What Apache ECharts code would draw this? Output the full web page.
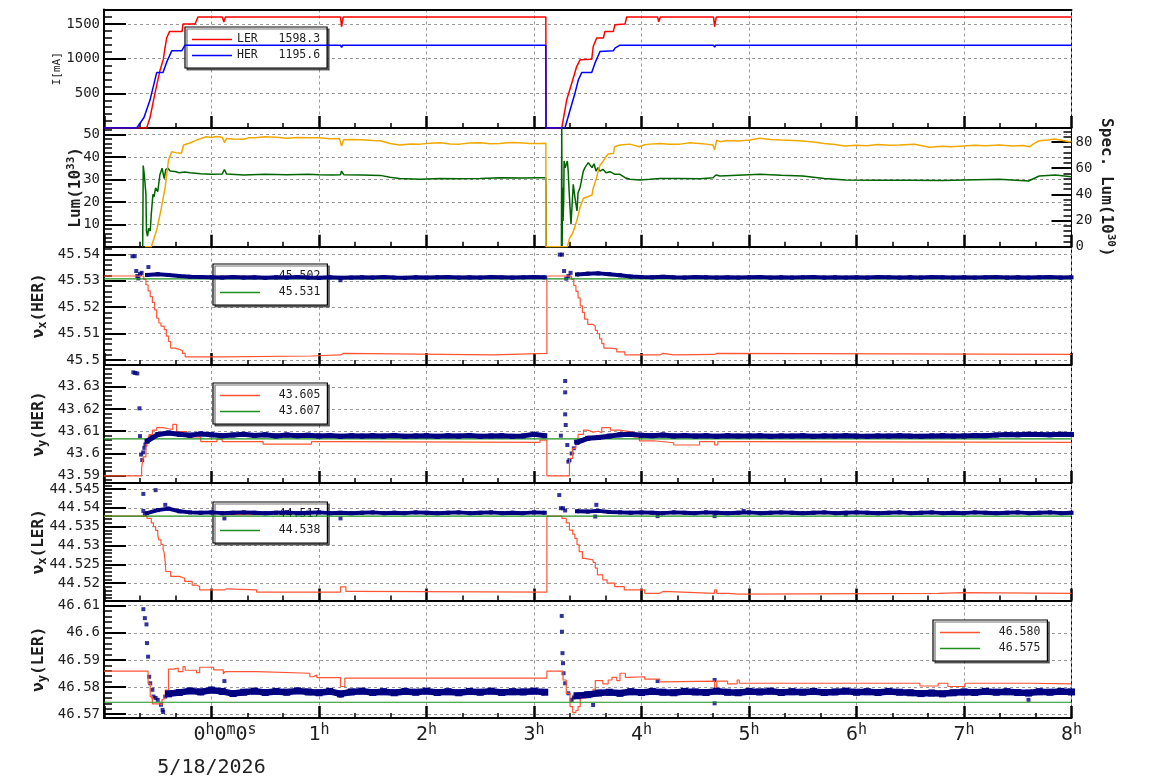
<!DOCTYPE html>
<html>
<head>
<meta charset="utf-8">
<script src="https://cdn.jsdelivr.net/npm/echarts@6.0.0/dist/echarts.min.js"></script>
<style>
html, body { margin: 0; padding: 0; background: #fff; }
#main { width: 1154px; height: 782px; }
</style>
</head>
<body>
<div id="main"></div>
<script>
const mono = 'DejaVu Sans Mono';
const ink = '#1e1e1e';
const navy = '#000080';
const tuneRed = '#ff5535';
const tuneGreen = '#1f8f1f';

// panel 1 : beam currents [mA], [hour, value]
const curLER = [[-1,0],[-0.603,0],[-0.572,150],[-0.526,500],[-0.479,830],[-0.448,993],[-0.433,1150],[-0.417,1297],[-0.405,1297],[-0.39,1393],[-0.274,1393],[-0.265,1500],[-0.153,1500],[-0.126,1600],[0.1,1601],[0.115,1530],[0.13,1600],[0.5,1602],[1.0,1600],[1.2,1602],[1.21,1460],[1.225,1600],[2.0,1601],[3.0,1600],[3.11,1600],[3.112,0],[3.258,0],[3.304,403],[3.351,645],[3.397,886],[3.428,983],[3.537,990],[3.551,1175],[3.583,1297],[3.645,1297],[3.66,1393],[3.738,1393],[3.753,1490],[3.847,1500],[3.862,1601],[4.15,1601],[4.16,1530],[4.175,1600],[4.67,1601],[4.68,1460],[4.695,1600],[5.5,1601],[6.5,1600],[7.5,1601],[8,1600]];
const curHER = [[-1,0],[-0.696,0],[-0.628,152],[-0.572,403],[-0.51,799],[-0.451,799],[-0.417,950],[-0.37,1113],[-0.277,1113],[-0.247,1195],[0.11,1195],[0.12,1175],[0.13,1195],[1.2,1195],[1.21,1160],[1.22,1195],[3.11,1195],[3.112,0],[3.288,0],[3.335,257],[3.381,500],[3.412,693],[3.444,799],[3.537,799],[3.567,935],[3.614,1103],[3.63,1113],[3.738,1113],[3.753,1152],[3.8,1195],[4.15,1195],[4.16,1172],[4.17,1195],[4.67,1195],[4.68,1165],[4.69,1195],[8,1195]];

// panel 2 : luminosity (left axis) and specific luminosity (right axis)
const lumi = [[-0.62,0],[-0.56,0],[-0.51,7.4],[-0.47,16.4],[-0.43,26.8],[-0.40,38.7],[-0.37,42.4],[-0.33,42.0],[-0.28,41.7],[-0.26,45.4],[-0.2,46.3],[-0.14,47.6],[-0.09,48.4],[-0.05,49.1],[0.0,48.8],[0.05,49.2],[0.1,48.9],[0.12,46.5],[0.14,48.3],[0.2,48.1],[0.3,48.0],[0.35,48.7],[0.4,48.6],[0.5,49.1],[0.6,48.9],[0.7,48.4],[0.8,48.8],[0.9,48.6],[1.0,48.6],[1.1,48.2],[1.19,48.3],[1.21,45.0],[1.23,47.8],[1.3,47.9],[1.4,47.8],[1.5,47.4],[1.57,47.3],[1.66,46.1],[1.75,45.4],[1.85,45.9],[1.94,45.8],[2.03,46.2],[2.13,46.4],[2.22,45.9],[2.31,45.8],[2.4,46.3],[2.5,46.4],[2.59,46.0],[2.68,46.1],[2.78,46.5],[2.87,46.4],[2.96,46.1],[3.05,46.1],[3.11,46.2],[3.112,0],[3.31,0],[3.33,3.7],[3.36,6],[3.40,11.9],[3.43,17.9],[3.46,21.6],[3.5,22.3],[3.54,23.1],[3.55,26],[3.58,30.5],[3.6,34.2],[3.615,36.5],[3.64,37.9],[3.67,40.2],[3.69,41.4],[3.74,41.7],[3.75,44.6],[3.8,45.4],[3.89,45.8],[3.98,44.6],[4.03,45.5],[4.08,45.8],[4.17,46.1],[4.26,45.7],[4.36,45.8],[4.45,46.4],[4.54,46.1],[4.6,45.8],[4.665,45.4],[4.68,43.2],[4.7,47.6],[4.73,46.9],[4.8,47.4],[4.9,47.2],[5.01,47.6],[5.1,48.4],[5.2,47.9],[5.3,47.6],[5.47,47.3],[5.6,46.8],[5.7,46.1],[5.8,45.6],[5.89,45.0],[6.0,45.3],[6.1,45.1],[6.2,45.6],[6.3,45.3],[6.4,45.4],[6.54,45.7],[6.6,45.2],[6.68,44.4],[6.8,44.9],[6.87,44.6],[7.0,45.0],[7.1,45.3],[7.2,45.1],[7.33,45.4],[7.45,45.0],[7.55,45.2],[7.61,44.6],[7.65,46.0],[7.7,47.3],[7.78,47.6],[7.84,48.1],[7.92,47.4],[7.98,46.9],[8,47.0]];
const specLumi = [[-0.64,0],[-0.635,62],[-0.625,55],[-0.61,40],[-0.605,12],[-0.595,8],[-0.585,14],[-0.57,12],[-0.56,25],[-0.545,40],[-0.535,38],[-0.52,45],[-0.50,42],[-0.48,55],[-0.46,60],[-0.44,52],[-0.425,59],[-0.405,60],[-0.385,57.8],[-0.34,57.5],[-0.3,56.5],[-0.25,57],[-0.2,56.5],[-0.1,55.8],[0.0,55.3],[0.1,55.6],[0.12,59],[0.14,55.5],[0.3,54.8],[0.5,55.3],[0.7,55.0],[0.9,55.4],[1.0,55.0],[1.13,54.8],[1.2,55.0],[1.21,57.8],[1.23,55.0],[1.4,54.8],[1.57,54.5],[1.66,53.0],[1.75,52.2],[1.94,51.5],[2.13,52.2],[2.3,52.0],[2.5,52.2],[2.68,52.7],[2.9,52.4],[3.05,52.7],[3.11,52.7],[3.112,38.7],[3.114,0],[3.255,0],[3.258,91],[3.262,0],[3.265,45],[3.27,19.6],[3.276,33.6],[3.28,65.5],[3.29,60.4],[3.3,62.9],[3.31,65.5],[3.318,57.8],[3.325,45],[3.344,17.1],[3.353,29.8],[3.365,47.7],[3.381,37.4],[3.4,27.3],[3.41,41.3],[3.428,45],[3.459,57.8],[3.474,60.4],[3.505,64.2],[3.521,62.9],[3.54,60.4],[3.558,63.4],[3.577,57.8],[3.595,60.4],[3.614,57.8],[3.642,59.1],[3.67,56.5],[3.707,57.3],[3.753,55.3],[3.8,55.3],[3.847,52.7],[3.893,51.5],[3.986,50.9],[4.079,51.5],[4.172,52.2],[4.358,52.2],[4.544,52],[4.665,52.7],[4.693,54.8],[4.73,54],[5.0,55],[5.1,55.3],[5.3,54.6],[5.5,54],[5.7,52.2],[5.9,51],[6.2,50.7],[6.5,50.7],[6.8,50.5],[7.0,51.0],[7.33,51.5],[7.6,50.2],[7.7,54],[7.85,54.8],[8.0,53.5]];

// tune set values (drawn as steps) and reference tunes
const nxHerSet = [[-1,45.5318],[-0.63,45.5305],[-0.61,45.5285],[-0.59,45.5262],[-0.57,45.524],[-0.55,45.5218],[-0.53,45.519],[-0.51,45.5158],[-0.49,45.514],[-0.47,45.5128],[-0.44,45.5115],[-0.42,45.509],[-0.4,45.507],[-0.38,45.5045],[-0.34,45.504],[-0.30,45.5035],[-0.27,45.5025],[-0.245,45.5012],[0.1,45.5015],[0.93,45.5019],[1.2,45.5025],[1.23,45.5019],[2.62,45.5025],[3.12,45.5318],[3.35,45.5305],[3.37,45.5282],[3.39,45.526],[3.41,45.5235],[3.43,45.5205],[3.45,45.518],[3.47,45.5155],[3.5,45.5135],[3.55,45.5128],[3.57,45.5112],[3.59,45.51],[3.61,45.508],[3.63,45.5062],[3.65,45.5045],[3.71,45.5042],[3.77,45.5031],[3.845,45.5019],[4.17,45.5025],[4.2,45.5019],[4.3,45.5021],[4.68,45.5025],[4.7,45.5021],[8,45.5021]];
const nyHerSet = [[-1,43.5899],[-0.65,43.5935],[-0.635,43.5985],[-0.61,43.603],[-0.595,43.606],[-0.58,43.6085],[-0.55,43.6105],[-0.51,43.6116],[-0.45,43.6111],[-0.4,43.6108],[-0.36,43.6131],[-0.325,43.6098],[-0.23,43.6075],[-0.1,43.6053],[0.05,43.6064],[0.1,43.6053],[0.48,43.6042],[0.93,43.6053],[1.2,43.605],[3.056,43.606],[3.12,43.5899],[3.33,43.5978],[3.36,43.6023],[3.39,43.6053],[3.41,43.6086],[3.46,43.6105],[3.5,43.6096],[3.55,43.61],[3.6,43.6093],[3.63,43.6116],[3.71,43.6105],[3.8,43.6096],[3.92,43.6075],[3.98,43.6057],[4.11,43.6048],[4.3,43.6038],[4.54,43.6053],[4.68,43.6038],[4.71,43.6053],[5.0,43.605],[8,43.605]];
const nxLerSet = [[-1,44.5378],[-0.6,44.5372],[-0.56,44.536],[-0.54,44.535],[-0.52,44.534],[-0.5,44.5328],[-0.49,44.5315],[-0.47,44.5303],[-0.45,44.529],[-0.44,44.528],[-0.43,44.5255],[-0.425,44.5231],[-0.38,44.5218],[-0.3,44.5213],[-0.25,44.5205],[-0.18,44.5195],[-0.14,44.5191],[-0.11,44.5182],[0.12,44.5185],[0.14,44.5182],[0.42,44.5176],[1.2,44.519],[1.25,44.5178],[1.35,44.5176],[3.12,44.5378],[3.26,44.5372],[3.3,44.536],[3.33,44.5341],[3.36,44.533],[3.38,44.5319],[3.4,44.5302],[3.42,44.5284],[3.45,44.5266],[3.47,44.5262],[3.55,44.5255],[3.57,44.524],[3.59,44.5222],[3.64,44.5209],[3.68,44.52],[3.75,44.5191],[3.84,44.5182],[4.03,44.5173],[4.17,44.5178],[4.2,44.5173],[4.68,44.5182],[4.7,44.5173],[4.81,44.5171],[4.9,44.5173],[6.76,44.5175],[6.99,44.5173],[8,44.5173]];
const nyLerSet = [[-1,46.5859],[-0.59,46.5814],[-0.57,46.5765],[-0.55,46.5738],[-0.48,46.5734],[-0.46,46.5753],[-0.445,46.5759],[-0.43,46.5789],[-0.40,46.5866],[-0.35,46.587],[-0.31,46.5857],[-0.265,46.5875],[-0.245,46.5862],[-0.14,46.5853],[-0.11,46.5873],[0.02,46.5863],[0.11,46.5848],[0.125,46.5857],[0.42,46.5851],[0.915,46.5838],[0.945,46.5844],[0.98,46.5835],[1.2,46.5802],[1.24,46.5833],[3.12,46.5859],[3.27,46.5826],[3.3,46.5777],[3.335,46.5728],[3.36,46.5706],[3.39,46.5714],[3.41,46.5728],[3.43,46.5759],[3.45,46.5765],[3.55,46.5792],[3.57,46.5824],[3.64,46.5812],[3.69,46.5826],[3.725,46.5836],[3.77,46.5824],[3.8,46.5851],[3.85,46.5836],[3.88,46.5838],[4.03,46.5829],[4.17,46.5819],[4.2,46.5822],[4.68,46.5783],[4.7,46.5822],[4.8,46.5812],[4.89,46.5826],[4.91,46.5814],[6.59,46.5804],[6.76,46.5814],[6.85,46.5802],[7.01,46.5814],[7.61,46.5812],[8,46.5812]];
const refTunes = [45.5307, 43.6066, 44.5378, 46.5744];

// measured tunes: band samples before and after the beam abort
const bandT1 = [-0.6,-0.5,-0.4,-0.3,-0.2,-0.1,0,0.1,0.2,0.3,0.4,0.5,0.6,0.7,0.8,0.9,1,1.1,1.2,1.3,1.4,1.5,1.6,1.7,1.8,1.9,2,2.1,2.2,2.3,2.4,2.5,2.6,2.7,2.8,2.9,3,3.1];
const bandT2 = [3.4,3.5,3.6,3.7,3.8,3.9,4,4.1,4.2,4.3,4.4,4.5,4.6,4.7,4.8,4.9,5,5.1,5.2,5.3,5.4,5.5,5.6,5.7,5.8,5.9,6,6.1,6.2,6.3,6.4,6.5,6.6,6.7,6.8,6.9,7,7.1,7.2,7.3,7.4,7.5,7.6,7.7,7.8,7.9,8];

const nxHer1 = [45.5322,45.5325,45.5322,45.5318,45.5315,45.5314,45.5313,45.5312,45.5314,45.5312,45.5313,45.5311,45.5313,45.5312,45.5314,45.5312,45.5311,45.5313,45.5311,45.5312,45.5313,45.5312,45.5314,45.5312,45.5311,45.5313,45.5312,45.5313,45.5314,45.5312,45.5313,45.5312,45.5314,45.5313,45.5312,45.5313,45.5314,45.5313];
const nxHer2 = [45.5324,45.5327,45.5328,45.5325,45.5321,45.5316,45.5314,45.5313,45.5315,45.5313,45.5312,45.5314,45.5313,45.5312,45.5313,45.5312,45.5313,45.5314,45.5312,45.5313,45.5312,45.5313,45.5314,45.5312,45.5313,45.5312,45.5313,45.5312,45.5314,45.5313,45.5312,45.5313,45.5312,45.5314,45.5313,45.5312,45.5313,45.5312,45.5313,45.5314,45.5312,45.5313,45.5312,45.5313,45.5314,45.5312,45.5313];
const nxHerDots = [[-0.735,45.5393],[-0.715,45.5393],[-0.70,45.5337],[-0.69,45.5318],[-0.68,45.5309],[-0.665,45.5326],[-0.65,45.533],[-0.587,45.5352],[1.2,45.5302],[3.24,45.5399],[3.26,45.5399],[3.28,45.5337],[3.30,45.5308],[3.32,45.5318],[3.34,45.533]];

const nyHer1 = [43.6055,43.6085,43.6092,43.6086,43.6082,43.6088,43.6084,43.608,43.6083,43.6086,43.6081,43.6084,43.6079,43.6083,43.608,43.6082,43.6079,43.6081,43.6077,43.608,43.6078,43.608,43.6078,43.6081,43.6077,43.6079,43.608,43.6077,43.608,43.6078,43.6081,43.6077,43.6079,43.608,43.6077,43.6079,43.6086,43.608];
const nyHer2 = [43.605,43.6068,43.6072,43.6078,43.6084,43.6086,43.6082,43.608,43.6083,43.6079,43.6081,43.6078,43.608,43.6077,43.608,43.6078,43.6079,43.608,43.6077,43.6079,43.6078,43.608,43.6077,43.6079,43.6078,43.608,43.6078,43.6077,43.6079,43.6078,43.608,43.6078,43.6077,43.6079,43.608,43.6078,43.6079,43.6081,43.608,43.6083,43.6085,43.6084,43.6086,43.6085,43.6084,43.6086,43.6085];
const nyHerDots = [[-0.727,43.6365],[-0.71,43.6362],[-0.69,43.636],[-0.67,43.6203],[-0.665,43.6078],[-0.655,43.5995],[-0.645,43.597],[-0.635,43.6005],[-0.625,43.6025],[-0.615,43.604],[-0.56,43.6075],[3.25,43.608],[3.29,43.6326],[3.29,43.6275],[3.29,43.6176],[3.295,43.6128],[3.31,43.6038],[3.32,43.5963],[3.33,43.597],[3.35,43.6],[3.37,43.6023],[3.39,43.6053]];

const nxLer1 = [44.5386,44.5394,44.5398,44.5391,44.5388,44.5387,44.5388,44.5386,44.5387,44.5388,44.5387,44.5386,44.5387,44.5388,44.5386,44.5387,44.5388,44.5386,44.5387,44.5386,44.5387,44.5388,44.5386,44.5387,44.5386,44.5388,44.5387,44.5386,44.5387,44.5388,44.5386,44.5387,44.5388,44.5386,44.5387,44.5386,44.5388,44.5387];
const nxLer2 = [44.5391,44.539,44.5392,44.5389,44.5388,44.5387,44.5388,44.5387,44.5386,44.5388,44.5387,44.5386,44.5388,44.5387,44.5386,44.5387,44.5388,44.5386,44.5387,44.5388,44.5387,44.5386,44.5387,44.5388,44.5386,44.5387,44.5388,44.5387,44.5386,44.5387,44.5388,44.5386,44.5387,44.5388,44.5386,44.5387,44.5386,44.5388,44.5387,44.5386,44.5387,44.5388,44.5386,44.5387,44.5388,44.5386,44.5387];
const nxLerDots = [[-0.634,44.5437],[-0.634,44.5392],[-0.62,44.5384],[-0.52,44.5447],[-0.43,44.5408],[0.12,44.5372],[1.2,44.5372],[3.235,44.5434],[3.25,44.5399],[3.27,44.5399],[3.29,44.5393],[3.57,44.5377],[3.58,44.5408],[4.15,44.5378],[4.68,44.5378],[4.95,44.5392],[5.9,44.5382]];

const nyLer1 = ['-','-',46.5775,46.578,46.5786,46.5782,46.5789,46.5784,46.5776,46.5781,46.5785,46.578,46.5784,46.5781,46.5786,46.5782,46.5779,46.5784,46.5775,46.5782,46.5785,46.578,46.5783,46.5779,46.5784,46.5781,46.5785,46.578,46.5783,46.5779,46.5784,46.5781,46.5785,46.578,46.5783,46.5782,46.5785,46.5781];
const nyLer2 = [46.5768,46.5772,46.5778,46.5781,46.5777,46.5783,46.578,46.5784,46.5781,46.5779,46.5784,46.5782,46.578,46.5785,46.5781,46.5779,46.5784,46.5782,46.5785,46.578,46.5783,46.5781,46.5784,46.578,46.5782,46.5785,46.5781,46.5783,46.578,46.5784,46.5781,46.5779,46.5776,46.5778,46.5775,46.5779,46.5782,46.578,46.5784,46.5781,46.5783,46.578,46.5778,46.5783,46.5781,46.5784,46.5782];
const nyLerDots = [[-0.634,46.6087],[-0.62,46.6054],[-0.605,46.6031],[-0.6,46.5962],[-0.59,46.5912],[-0.58,46.5838],[-0.57,46.5814],[-0.55,46.579],[-0.54,46.5765],[-0.52,46.576],[-0.5,46.5753],[-0.47,46.5735],[-0.455,46.5716],[-0.45,46.5708],[-0.43,46.5765],[-0.41,46.5772],[0.12,46.5822],[1.2,46.5768],[3.258,46.6062],[3.26,46.6004],[3.265,46.5925],[3.27,46.5888],[3.275,46.5851],[3.29,46.5814],[3.32,46.5777],[3.35,46.5753],[3.37,46.5762],[3.55,46.5734],[4.15,46.5822],[4.68,46.5826],[4.68,46.574],[7.6,46.5753]];

// legend texts
const legCur = ['LER   1598.3', 'HER   1195.6'];
const legTune = [['  45.502', '  45.531'], ['  43.605', '  43.607'], ['  44.517', '  44.538'], ['  46.580', '  46.575']];
const dateLabel = '5/18/2026';

// axis ranges / tick steps per panel
const yMin = [0, 0, 45.4981, 43.5867, 44.5154, 46.5686];
const yMax = [1709, 53, 45.5429, 43.6398, 44.5466, 46.6119];
const yStep = [500, 10, 0.01, 0.01, 0.005, 0.01];
const specMax = 90.7;

// layout
const tops = [9.5, 128, 246.7, 365, 483, 600.5];
const bots = [128, 246.7, 365, 483, 600.5, 718];

const chart = echarts.init(document.getElementById('main'));

const grids = tops.map((t, i) => ({
  left: 104, right: 82.5, top: t, height: bots[i] - t,
  show: true, borderColor: '#000', borderWidth: 1, backgroundColor: 'transparent'
}));

const dash = { color: '#9a9a9a', width: 1, type: [3, 3] };

const xAxes = tops.map((t, i) => ({
  type: 'value', gridIndex: i, min: -1, max: 8, interval: 1,
  axisLine: { show: true, onZero: false, lineStyle: { color: '#000', width: 2 } },
  axisTick: { inside: true, length: 12, lineStyle: { color: '#000', width: 2.5 } },
  minorTick: { show: true, splitNumber: 3, length: 5, lineStyle: { color: '#000', width: 1.5 } },
  splitLine: { show: true, lineStyle: dash },
  axisLabel: {
    show: i === 5, margin: 5, color: ink, fontFamily: mono,
    formatter: v => {
      if (v < 0) return '';
      if (v === 0) return '{p| }{a|0}{s|h}{a|0}{s|m}{a|0}{s|s}\n{d|' + dateLabel + '}';
      return '{a|' + v + '}{s|h}';
    },
    rich: {
      p: { width: 27, fontSize: 20, lineHeight: 24 },
      a: { fontFamily: mono, fontSize: 20, lineHeight: 24, color: ink },
      s: { fontFamily: mono, fontSize: 15, lineHeight: 15, verticalAlign: 'top', color: ink },
      d: { fontFamily: mono, fontSize: 20, lineHeight: 42, color: ink }
    }
  }
}));
xAxes.push({
  type: 'value', gridIndex: 0, position: 'top', min: -1, max: 8,
  axisLine: { show: true, onZero: false, lineStyle: { color: '#000', width: 2 } },
  axisTick: { show: false }, axisLabel: { show: false }, splitLine: { show: false }
});

const nameRich = {
  b: { fontFamily: mono, fontSize: 16, fontWeight: 'bold', color: ink, lineHeight: 20 },
  sub: { fontFamily: mono, fontSize: 12, fontWeight: 'bold', color: ink, lineHeight: 12, verticalAlign: 'bottom' },
  sup: { fontFamily: mono, fontSize: 11, fontWeight: 'bold', color: ink, lineHeight: 11, verticalAlign: 'top' }
};
const yNames = ['I[mA]', '{b|Lum(10}{sup|33}{b|)}', '{b|ν}{sub|x}{b|(HER)}', '{b|ν}{sub|y}{b|(HER)}', '{b|ν}{sub|x}{b|(LER)}', '{b|ν}{sub|y}{b|(LER)}'];
const nameGaps = [41, 18, 55, 55, 55, 55];

const fmt = v => String(parseFloat(v.toFixed(4)));

const yAxes = tops.map((t, i) => ({
  type: 'value', gridIndex: i, min: yMin[i], max: yMax[i],
  minInterval: yStep[i], maxInterval: yStep[i], splitNumber: 5,
  axisLine: { show: true, onZero: false, lineStyle: { color: '#000', width: 2 } },
  axisTick: { inside: true, length: 22, lineStyle: { color: '#000', width: 2 } },
  minorTick: { show: true, splitNumber: 5, length: 8, lineStyle: { color: '#000', width: 1.5 } },
  splitLine: { show: true, lineStyle: dash },
  axisLabel: { fontFamily: mono, fontSize: 14, color: ink, margin: 4, showMinLabel: false, showMaxLabel: false, formatter: fmt },
  name: yNames[i], nameLocation: 'middle', nameRotate: 90, nameGap: nameGaps[i], nameMoveOverlap: false,
  nameTextStyle: i === 0
    ? { fontFamily: mono, fontSize: 11, color: ink }
    : { fontFamily: mono, fontSize: i === 1 ? 15 : 16, fontWeight: 'bold', color: ink, rich: nameRich }
}));
yAxes.push({
  type: 'value', gridIndex: 1, position: 'right', min: 0, max: specMax,
  minInterval: 20, maxInterval: 20, splitNumber: 5,
  axisLine: { show: true, onZero: false, lineStyle: { color: '#000', width: 1 } },
  axisTick: { inside: true, length: 20, lineStyle: { color: '#000', width: 2 } },
  minorTick: { show: true, splitNumber: 5, length: 8, lineStyle: { color: '#000', width: 1.5 } },
  splitLine: { show: false },
  axisLabel: { fontFamily: mono, fontSize: 14, color: ink, margin: 4, showMinLabel: true, showMaxLabel: false, formatter: fmt },
  name: '{b|Spec. Lum(10}{sup|30}{b|)}', nameLocation: 'middle', nameRotate: -90, nameGap: 25, nameMoveOverlap: false,
  nameTextStyle: { fontFamily: mono, fontSize: 16, fontWeight: 'bold', color: ink, rich: nameRich }
});

function line(name, xi, yi, data, color, width, extra) {
  return Object.assign({
    name: name, type: 'line', xAxisIndex: xi, yAxisIndex: yi, data: data,
    showSymbol: false, symbol: 'none', color: color,
    lineStyle: { color: color, width: width },
    animation: false, silent: true
  }, extra || {});
}
function band(name, xi, v1, v2, width, size) {
  const data = bandT1.map((t, k) => [t, v1[k]]);
  data.push([3.25, '-']);
  bandT2.forEach((t, k) => data.push([t, v2[k]]));
  return line(name, xi, xi, data, navy, width, {
    showSymbol: true, symbol: 'rect', symbolSize: size, itemStyle: { color: navy }
  });
}
function dots(name, xi, data) {
  return {
    name: name, type: 'scatter', xAxisIndex: xi, yAxisIndex: xi, data: data,
    symbol: 'rect', symbolSize: 4, itemStyle: { color: navy }, animation: false, silent: true
  };
}
const flat = v => [[-1, v], [8, v]];

const series = [
  line('LER', 0, 0, curLER, '#ff0000', 1.5),
  line('HER', 0, 0, curHER, '#0000ff', 1.5),
  line('spec', 1, 6, specLumi, '#006400', 1.5),
  line('lumi', 1, 1, lumi, '#f0a800', 1.5),

  line('p3set', 2, 2, nxHerSet, tuneRed, 1.2, { step: 'end' }),
  line('p3ref', 2, 2, flat(refTunes[0]), tuneGreen, 1.2),
  band('p3band', 2, nxHer1, nxHer2, 4, 4),
  dots('p3dots', 2, nxHerDots),

  line('p4set', 3, 3, nyHerSet, tuneRed, 1.2, { step: 'end' }),
  line('p4ref', 3, 3, flat(refTunes[1]), tuneGreen, 1.2),
  band('p4band', 3, nyHer1, nyHer2, 5, 5),
  dots('p4dots', 3, nyHerDots),

  line('p5set', 4, 4, nxLerSet, tuneRed, 1.2, { step: 'end' }),
  line('p5ref', 4, 4, flat(refTunes[2]), tuneGreen, 1.2),
  band('p5band', 4, nxLer1, nxLer2, 4, 4),
  dots('p5dots', 4, nxLerDots),

  line('p6set', 5, 5, nyLerSet, tuneRed, 1.2, { step: 'end' }),
  line('p6ref', 5, 5, flat(refTunes[3]), tuneGreen, 1.2),
  band('p6band', 5, nyLer1, nyLer2, 6.5, 7),
  dots('p6dots', 5, nyLerDots)
];

function legendBox(left, top, names, labels) {
  return {
    left: left, top: top, orient: 'vertical', align: 'left', z: 1,
    data: names, icon: 'rect', itemWidth: 40, itemHeight: 1.5, itemGap: 1,
    padding: [5, 7, 5, 7], backgroundColor: '#fff',
    borderColor: '#000', borderWidth: 1.2,
    shadowColor: 'rgba(0,0,0,0.55)', shadowBlur: 0.5, shadowOffsetX: 2, shadowOffsetY: 2,
    selectedMode: false,
    textStyle: { fontFamily: mono, fontSize: 11.5, color: ink, lineHeight: 15 },
    formatter: n => labels[names.indexOf(n)]
  };
}

const option = {
  animation: false,
  textStyle: { fontFamily: mono },
  grid: grids,
  xAxis: xAxes,
  yAxis: yAxes,
  legend: [
    legendBox(185, 27, ['LER', 'HER'], legCur),
    legendBox(213, 264, ['p3set', 'p3ref'], legTune[0]),
    legendBox(213, 383, ['p4set', 'p4ref'], legTune[1]),
    legendBox(213, 502, ['p5set', 'p5ref'], legTune[2]),
    legendBox(933, 620, ['p6set', 'p6ref'], legTune[3])
  ],
  series: series
};
chart.setOption(option);
</script>
</body>
</html>
